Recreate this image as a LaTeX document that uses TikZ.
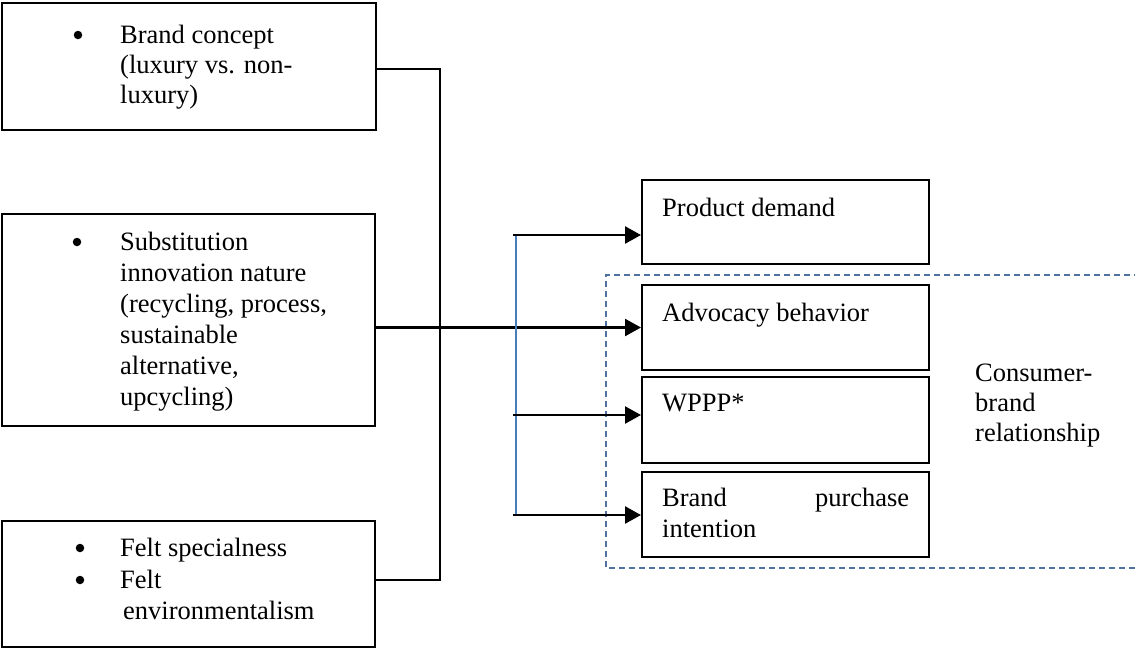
\documentclass[tikz,border=0pt]{standalone}
\usepackage{fontspec}
\setmainfont{Liberation Serif}
\usetikzlibrary{arrows.meta}
\definecolor{lineblue}{RGB}{74,126,187}
\definecolor{dashblue}{RGB}{79,113,160}
\begin{document}
\begin{tikzpicture}[x=1pt,y=-1pt,
  box/.style={draw=black,line width=2pt,inner sep=0pt,rectangle},
  txt/.style={anchor=base west,inner sep=0pt,font=\fontsize{26.5}{30.5}\selectfont},
  bul/.style={circle,fill=black,inner sep=0pt,minimum size=8.5pt},
  conn/.style={draw=black,line width=2pt},
  arr/.style={draw=black,line width=2.4pt,-{Triangle[length=16pt,width=17pt]}},
  bline/.style={draw=lineblue,line width=1.8pt},
  dbox/.style={draw=dashblue,line width=1.1pt,dash pattern=on 6pt off 4pt}]
\useasboundingbox (0,0) rectangle (1135,649);
% left boxes
\node[box,minimum width=374pt,minimum height=127pt] (b1) at (189,66.5) {};
\node[box,minimum width=373pt,minimum height=212pt] (b2) at (188.5,320) {};
\node[box,minimum width=373pt,minimum height=126pt] (b3) at (188.5,584) {};
% left texts
\node[bul] (b1d) at (78,35) {};
\node[txt] (b1l1) at (120,43) {Brand concept};
\node[txt] (b1l2) at (120,73) {(luxury vs. non-};
\node[txt] (b1l3) at (120,103) {luxury)};
\node[bul] (b2d) at (77,242) {};
\node[txt] (b2l1) at (120,250) {Substitution};
\node[txt] (b2l2) at (120,281) {innovation nature};
\node[txt] (b2l3) at (120,312) {(recycling, process,};
\node[txt] (b2l4) at (120,343) {sustainable};
\node[txt] (b2l5) at (120,374) {alternative,};
\node[txt] (b2l6) at (120,405) {upcycling)};
\node[bul] (b3d1) at (80,548) {};
\node[bul] (b3d2) at (80,580) {};
\node[txt] (b3l1) at (120,556) {Felt specialness};
\node[txt] (b3l2) at (120,588) {Felt};
\node[txt] (b3l3) at (123,619) {environmentalism};
% right boxes
\node[box,minimum width=287pt,minimum height=84pt] (pd) at (785.5,222) {};
\node[box,minimum width=287pt,minimum height=85pt] (adv) at (785.5,327.5) {};
\node[box,minimum width=287pt,minimum height=86pt] (wp) at (785.5,420) {};
\node[box,minimum width=287pt,minimum height=85pt] (bpi) at (785.5,514.5) {};
\node[txt] (pdt) at (662,216) {Product demand};
\node[txt] (advt) at (662,321) {Advocacy behavior};
\node[txt] (wpt) at (662,411) {WPPP*};
\node[txt,text width=247pt] (bpit) at (662,506) {Brand\hfill purchase};
\node[txt] (bpit2) at (662,537) {intention};
\node[txt] (cb1) at (975,381) {Consumer-};
\node[txt] (cb2) at (975,411) {brand};
\node[txt] (cb3) at (975,441) {relationship};
% dashed group
\coordinate (dtr) at (1140,275);
\coordinate (dtl) at (606,275);
\coordinate (dbl) at (606,568);
\coordinate (dbr) at (1140,568);
\draw[dbox] (dtr) -- (dtl) -- (dbl) -- (dbr);
% left connectors
\coordinate (j1) at (440,69);
\coordinate (j3) at (440,580);
\draw[conn] (b1.east |- j1) -- (j1) -- (j3) -- (b3.east |- j3);
\draw[arr] (b2.east |- adv.west) -- (adv.west);
% blue bracket and arrows
\coordinate (bt) at (516,235);
\coordinate (bm) at (516,415);
\coordinate (bb) at (516,515);
\coordinate (st) at (513,235);
\coordinate (sm) at (513,415);
\coordinate (sb) at (513,515);
\draw[bline] (bt) -- (bb);
\draw[arr] (st) -- (pd.west |- st);
\draw[arr] (sm) -- (wp.west |- sm);
\draw[arr] (sb) -- (bpi.west |- sb);
\end{tikzpicture}
\end{document}
